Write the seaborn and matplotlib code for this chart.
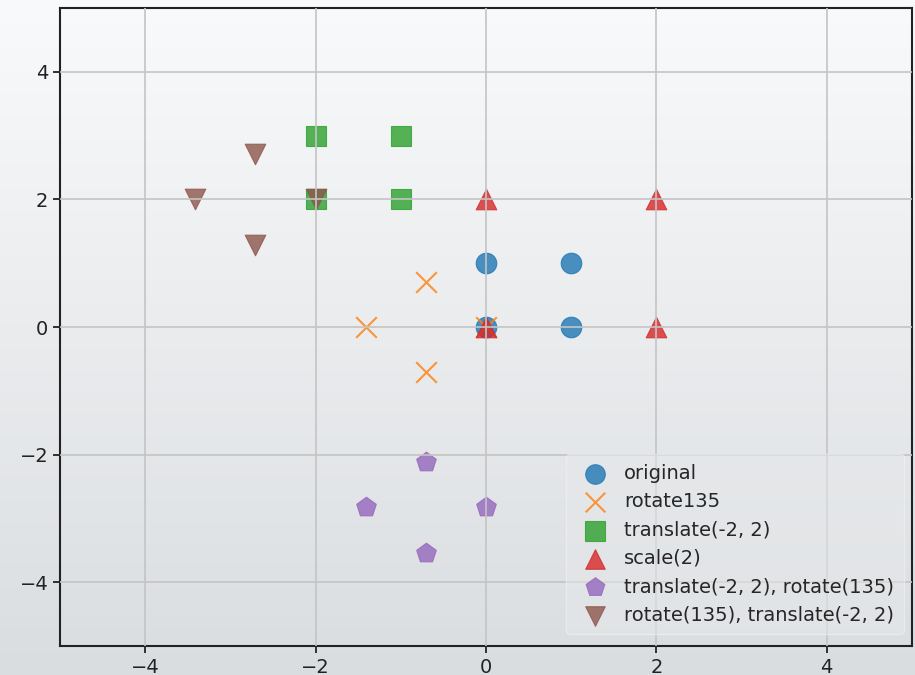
import numpy as np
import pandas as pd
import matplotlib
matplotlib.use("Agg")
import matplotlib.pyplot as plt
import seaborn as sns
from matplotlib.colors import LinearSegmentedColormap

labels = ["original", "rotate135", "translate(-2, 2)", "scale(2)",
          "translate(-2, 2), rotate(135)", "rotate(135), translate(-2, 2)"]
xs = [
    [0, 1, 1, 0],
    [0, -0.707, -1.414, -0.707],
    [-2, -1, -1, -2],
    [0, 2, 2, 0],
    [0, -0.707, -1.414, -0.707],
    [-2, -2.707, -3.414, -2.707],
]
ys = [
    [0, 0, 1, 1],
    [0, 0.707, 0, -0.707],
    [2, 2, 3, 3],
    [0, 0, 2, 2],
    [-2.828, -2.121, -2.828, -3.536],
    [2, 2.707, 2, 1.293],
]
markers = ["o", "x", "s", "^", "p", "v"]
xticks = [-4, -2, 0, 2, 4]
yticks = [-4, -2, 0, 2, 4]

sns.set_theme(style="white")
plt.rcParams['font.family'] = ['DejaVu Sans']

fig = plt.figure(figsize=(9.15, 6.75), dpi=100)
# background gradient
bg = fig.add_axes([0, 0, 1, 1])
grad = np.linspace(0, 1, 256).reshape(-1, 1)
cm = LinearSegmentedColormap.from_list("g", ["#f9fafb", "#dadde0"])
bg.imshow(grad, aspect="auto", cmap=cm, extent=[0, 1, 0, 1], origin="upper")
bg.axis("off")

ax = fig.add_axes([0.0656, 0.043, 0.931, 0.945])
ax.patch.set_alpha(0)
palette = sns.color_palette("tab10")
for i, lab in enumerate(labels):
    df = pd.DataFrame({"x": xs[i], "y": ys[i]})
    kw = dict(s=220, alpha=0.8, color=palette[i], marker=markers[i], label=lab)
    if markers[i] == "x":
        kw["linewidth"] = 1.5
    else:
        kw["edgecolor"] = palette[i]
        kw["linewidth"] = 0.8
    sns.scatterplot(data=df, x="x", y="y", ax=ax, **kw)

ax.set_xlim(-5, 5)
ax.set_ylim(-5, 5)
ax.set_xticks(xticks)
ax.set_yticks(yticks)
ax.set_xticklabels([f"\u2212{abs(v)}" if v < 0 else str(v) for v in xticks])
ax.set_yticklabels([f"\u2212{abs(v)}" if v < 0 else str(v) for v in yticks])
ax.set_xlabel("")
ax.set_ylabel("")
ax.grid(True, color="#c4c4c4", linewidth=1.2)
ax.set_axisbelow(False)
for sp in ax.spines.values():
    sp.set_color("#222222")
    sp.set_linewidth(1.5)
ax.tick_params(axis="both", labelsize=14, length=5, width=1.3, color="#222222",
               labelcolor="#222222", left=True, bottom=True)
leg = ax.legend(loc="lower right", fontsize=14, frameon=True, framealpha=0.5,
                handletextpad=0.5, borderpad=0.5, labelspacing=0.48,
                bbox_to_anchor=(1.002, 0.003), markerscale=0.95)
leg.get_frame().set_facecolor("#e6e8ea")
leg.get_frame().set_edgecolor("#f4f4f4")
fig.savefig("out.png", dpi=100)
